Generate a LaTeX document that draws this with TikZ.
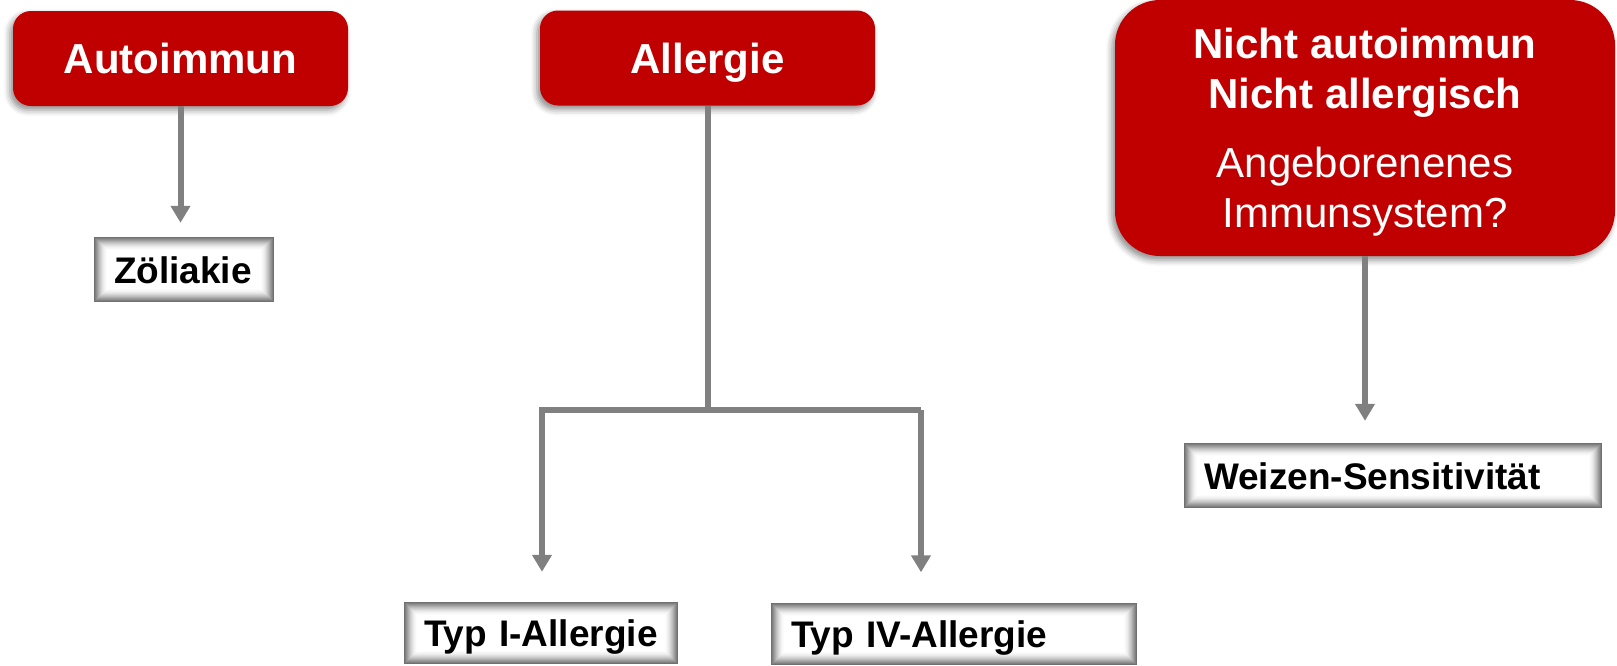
\documentclass[tikz,border=0pt]{standalone}
\usepackage{fontspec}
\setmainfont{Liberation Sans}
\usetikzlibrary{arrows.meta,shadows.blur}
\definecolor{boxred}{HTML}{C00000}
\definecolor{linegray}{HTML}{808080}

\tikzset{
  redbox/.style={fill=boxred, text=white, rounded corners=18pt,
    font=\bfseries\fontsize{42}{50}\selectfont, inner sep=0pt,
    blur shadow={shadow xshift=-3pt, shadow yshift=-4pt,
      shadow blur radius=6pt, shadow opacity=45}},
  glowbox/.style={fill=white, inner xsep=20pt, inner ysep=0pt, align=left,
    text height=27pt, text depth=0pt,
    font=\bfseries\fontsize{37}{44}\selectfont,
    path picture={
      \foreach \d/\c in {0/56,1/50,2/44,3/38,4/32,5/26,6/21,7/16,8/12,9/8,10/5,11/3,12/1,13/0}{
        \fill[black!\c]
          ([shift={(\d pt,-\d pt)}]path picture bounding box.north west)
          rectangle
          ([shift={(-\d pt,\d pt)}]path picture bounding box.south east);
      }
    }},
  conn/.style={draw=linegray, line width=6pt},
  arr/.style={-{Triangle[width=19pt,length=17pt]}},
}

\begin{document}
\begin{tikzpicture}[x=1pt, y=-1pt]
  \useasboundingbox (0,0) rectangle (1617,665);

  % category boxes
  \node[redbox, minimum width=335pt, minimum height=95pt,
        text height=30pt, text depth=0pt] (auto) at (180.5,58.5) {Autoimmun};
  \node[redbox, minimum width=335pt, minimum height=95pt,
        text height=30pt, text depth=0pt] (allerg) at (707.5,58) {Allergie};
  \node[redbox, rounded corners=45pt, minimum width=500pt, minimum height=256pt,
        align=center] (nicht) at (1365,128)
        {\rule{0pt}{38pt}Nicht autoimmun\\Nicht allergisch\\[19pt]
         \mdseries Angeborenenes\\\mdseries Immunsystem?};

  % disease boxes
  \node[glowbox, text width=140pt, minimum height=65pt] (zoel) at (184,269.5) {Zöliakie};
  \node[glowbox, text width=234pt, minimum height=62pt] (typ1) at (541,633) {Typ I-Allergie};
  \node[glowbox, text width=326pt, minimum height=62pt] (typ4) at (954,633.5) {Typ IV-Allergie};
  \node[glowbox, text width=378pt, minimum height=65pt] (weizen) at (1393,475.5) {Weizen-Sensitivität};

  % connectors
  \draw[conn, arr, shorten >=14pt] (auto.south) -- (auto.south |- zoel.north);

  \coordinate (barL) at (542,410);
  \coordinate (barR) at (921,410);
  \draw[conn] (allerg.south) -- (allerg.south |- barL);
  \draw[conn, arr, shorten >=30pt] (barR) -- (barL) -- (barL |- typ1.north);
  \draw[conn, arr, shorten >=30pt] (barR) -- (barR |- typ4.north);

  \draw[conn, arr, shorten >=22pt] (nicht.south) -- (nicht.south |- weizen.north);
\end{tikzpicture}
\end{document}
